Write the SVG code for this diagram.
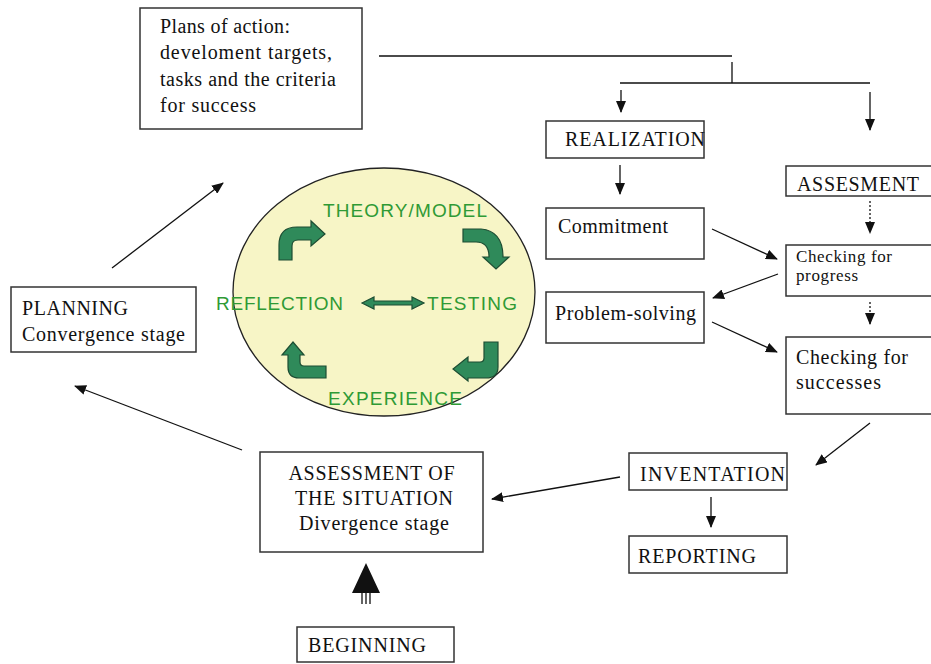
<svg xmlns="http://www.w3.org/2000/svg" width="931" height="664" viewBox="0 0 931 664">
<defs>
<marker id="ah" markerUnits="userSpaceOnUse" markerWidth="12" markerHeight="10" refX="11" refY="5" orient="auto"><path d="M0,0 L12,5 L0,10 Z" fill="#111"/></marker>
<style>
.box{fill:#fff;stroke:#333;stroke-width:1.5}
.t{font-family:"Liberation Serif","Times New Roman",serif;font-size:20px;fill:#111}
.ts{font-family:"Liberation Serif","Times New Roman",serif;font-size:17px;fill:#111}
.g{font-family:"Liberation Sans",Arial,sans-serif;font-size:19px;fill:#2f9a35}
.ln{stroke:#111;stroke-width:1.3;fill:none}
.ar{stroke:#111;stroke-width:1.3;fill:none;marker-end:url(#ah)}
.dot{stroke-dasharray:2,2}
.ga{fill:#2f8a5a;stroke:#1d4d33;stroke-width:1.2}
</style>
</defs>
<rect width="931" height="664" fill="#fff"/>

<g id="cycle">
<ellipse cx="384" cy="292" rx="151" ry="124" fill="#f7f5c6" stroke="#222" stroke-width="1.3"/>
<text class="g" x="323" y="217" textLength="164">THEORY/MODEL</text>
<text class="g" x="216" y="310" textLength="127">REFLECTION</text>
<text class="g" x="427" y="310" textLength="90">TESTING</text>
<text class="g" x="328" y="405" textLength="134">EXPERIENCE</text>
<path class="ga" d="M279,260 L279,245 Q279,227 297,227 L311,227 L311,221 L325,234 L311,246 L311,240 L298,240 Q292,240 292,246 L292,260 Z"/>
<path class="ga" d="M463,229 L481,229 Q503,231 503,257 L509,257 L496,269 L483,257 L489,257 Q489,242 476,242 L463,242 Z"/>
<path class="ga" d="M484,342 L498,342 L498,367 Q498,378 486,378 L468,378 L468,381 L453,369 L468,357 L468,362 L480,362 Q484,362 484,358 Z"/>
<path class="ga" d="M326,366 L326,378 L299,378 Q288,378 288,367 L288,355 L282,355 L293,342 L304,355 L300,355 L300,362 Q300,366 304,366 Z"/>
<path class="ga" d="M362,303 L374,297 L374,301 L412,301 L412,297 L424,303 L412,309 L412,305 L374,305 L374,309 Z"/>
</g>

<g id="plans">
<rect class="box" x="140" y="8" width="222" height="121"/>
<text class="t" x="160" y="33" textLength="130">Plans of action:</text>
<text class="t" x="160" y="59" textLength="172">develoment targets,</text>
<text class="t" x="160" y="86" textLength="176">tasks and the criteria</text>
<text class="t" x="160" y="112" textLength="96">for success</text>
</g>

<g id="realization">
<rect class="box" x="546" y="121" width="158" height="37"/>
<text class="t" x="565" y="146" textLength="140">REALIZATION</text>
</g>

<g id="assesment">
<rect class="box" x="786" y="166" width="160" height="30"/>
<text class="t" x="797" y="191" textLength="122">ASSESMENT</text>
</g>

<g id="commitment">
<rect class="box" x="546" y="208" width="158" height="51"/>
<text class="t" x="558" y="233" textLength="110">Commitment</text>
</g>

<g id="progress">
<rect class="box" x="786" y="245" width="160" height="51"/>
<text class="ts" x="796" y="262" textLength="96">Checking for</text>
<text class="ts" x="796" y="281" textLength="62">progress</text>
</g>

<g id="problem">
<rect class="box" x="546" y="292" width="158" height="51"/>
<text class="t" x="555" y="320" textLength="141">Problem-solving</text>
</g>

<g id="successes">
<rect class="box" x="786" y="337" width="160" height="77"/>
<text class="t" x="796" y="364" textLength="112">Checking for</text>
<text class="t" x="796" y="389" textLength="85">successes</text>
</g>

<g id="inventation">
<rect class="box" x="629" y="453" width="158" height="37"/>
<text class="t" x="640" y="481" textLength="145">INVENTATION</text>
</g>

<g id="reporting">
<rect class="box" x="629" y="536" width="158" height="37"/>
<text class="t" x="638" y="563" textLength="118">REPORTING</text>
</g>

<g id="situation">
<rect class="box" x="260" y="452" width="223" height="100"/>
<text class="t" x="371.5" y="480" text-anchor="middle" textLength="166">ASSESSMENT OF</text>
<text class="t" x="374" y="505" text-anchor="middle" textLength="158">THE SITUATION</text>
<text class="t" x="374" y="530" text-anchor="middle" textLength="150">Divergence stage</text>
</g>

<g id="beginning">
<rect class="box" x="297" y="627" width="157" height="35"/>
<text class="t" x="308" y="652" textLength="118">BEGINNING</text>
</g>

<g id="planning">
<rect class="box" x="11" y="287" width="185" height="65"/>
<text class="t" x="22" y="315" textLength="106">PLANNING</text>
<text class="t" x="22" y="341" textLength="163">Convergence stage</text>
</g>

<g id="connectors">
<path class="ln" d="M379,56 L732,56 M732,62 L732,83 M620,83 L870,83"/>
<line class="ar" x1="621" y1="90" x2="621" y2="112"/>
<line class="ar" x1="870" y1="92" x2="870" y2="130"/>
<line class="ar" x1="620" y1="165" x2="620" y2="194"/>
<line class="ar dot" x1="870" y1="201" x2="870" y2="233"/>
<line class="ar dot" x1="870" y1="302" x2="870" y2="324"/>
<line class="ar" x1="712" y1="229" x2="777" y2="259"/>
<line class="ar" x1="778" y1="274" x2="713" y2="298"/>
<line class="ar" x1="712" y1="322" x2="777" y2="352"/>
<line class="ar" x1="870" y1="423" x2="816" y2="465"/>
<line class="ar" x1="711" y1="497" x2="711" y2="527"/>
<line class="ar" x1="620" y1="477" x2="492" y2="499"/>
<line class="ar" x1="242" y1="450" x2="75" y2="386"/>
<line class="ar" x1="112" y1="268" x2="223" y2="183"/>
<path d="M366,563 L352,593 L380,593 Z" fill="#111"/>
<path class="ln" d="M362,593 L362,604 M366,593 L366,604 M370,593 L370,604"/>
</g>
</svg>
